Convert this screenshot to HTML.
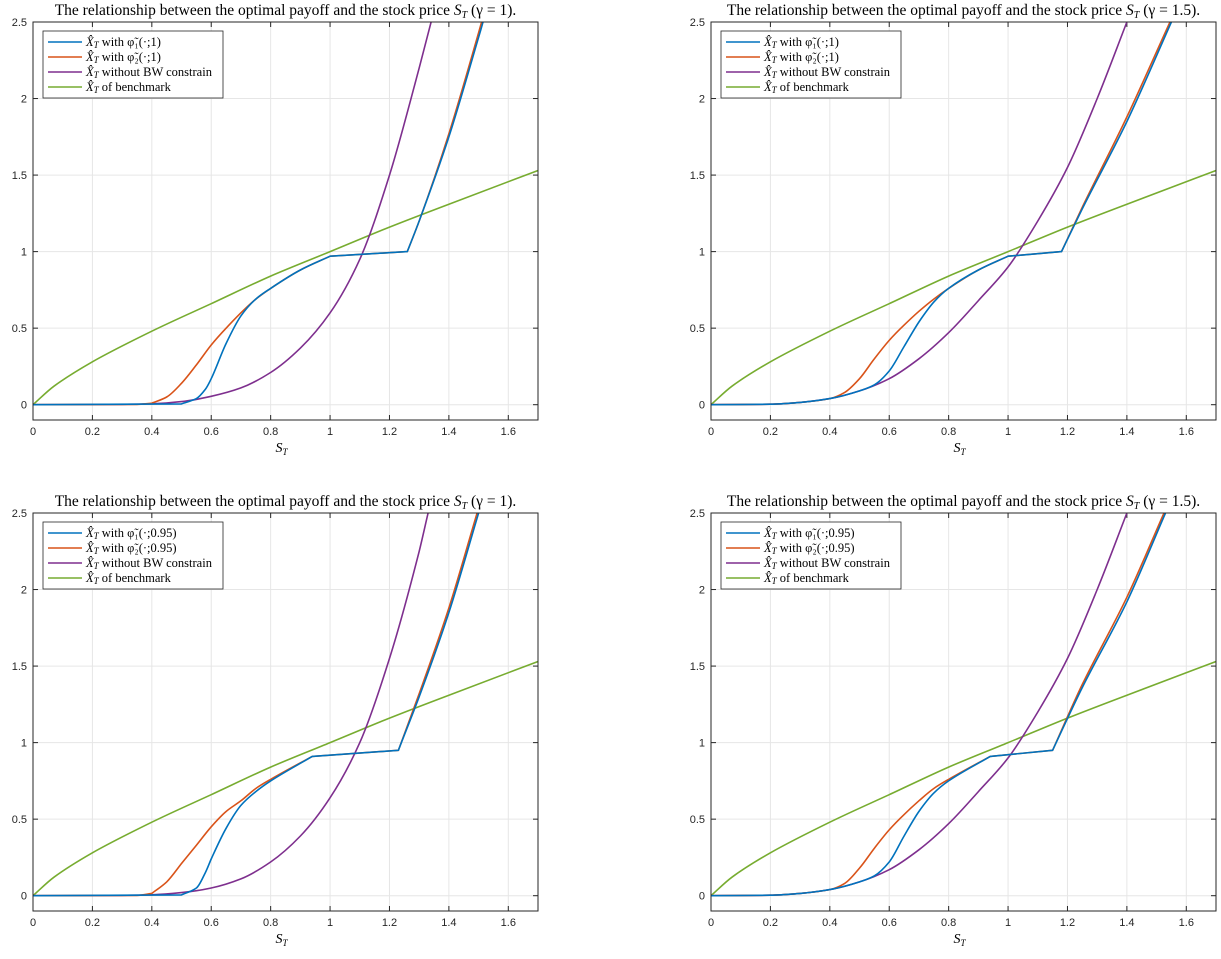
<!DOCTYPE html>
<html><head><meta charset="utf-8">
<style>
body{margin:0;background:#fff;}
</style></head>
<body>
<svg id="fig" width="1221" height="954" xmlns="http://www.w3.org/2000/svg" style="font-family:'Liberation Sans',sans-serif"></svg>
<script>
const xTicks=[0,0.2,0.4,0.6,0.8,1,1.2,1.4,1.6];
const yTicks=[0,0.5,1,1.5,2,2.5];
const greenX=[0,0.07,0.2,0.4,0.6,0.8,1.0,1.2,1.4,1.7];
const greenY=[0,0.12,0.28,0.48,0.66,0.84,1.0,1.16,1.31,1.53];
const p1PurpleX=[0,0.3,0.4,0.5,0.6,0.7,0.8,0.9,1.0,1.1,1.2,1.3,1.34];
const p1PurpleY=[0,0.002,0.006,0.02,0.055,0.11,0.21,0.37,0.6,0.95,1.5,2.2,2.5];
const p1BlueX=[0,0.5,0.55,0.58,0.6,0.65,0.7,0.75,0.8,0.9,1.0,1.26,1.3,1.4,1.5,1.515];
const p1BlueY=[0,0.005,0.04,0.1,0.17,0.4,0.58,0.69,0.76,0.88,0.97,1.0,1.2,1.75,2.4,2.5];
const p1OrangeX=[0,0.35,0.4,0.45,0.5,0.55,0.6,0.65,0.7,0.75,0.8,0.9,1.0,1.26,1.3,1.4,1.5,1.51];
const p1OrangeY=[0,0.002,0.01,0.05,0.14,0.26,0.39,0.5,0.6,0.69,0.76,0.88,0.97,1.0,1.2,1.77,2.43,2.5];
const p2PurpleX=[0,0.2,0.3,0.4,0.5,0.6,0.7,0.8,0.9,1.0,1.1,1.2,1.3,1.4];
const p2PurpleY=[0,0.003,0.015,0.04,0.09,0.17,0.3,0.47,0.68,0.9,1.2,1.55,2.0,2.5];
const p2BlueX=[0,0.2,0.3,0.4,0.5,0.55,0.6,0.65,0.7,0.75,0.8,0.9,1.0,1.18,1.25,1.4,1.55];
const p2BlueY=[0,0.003,0.015,0.04,0.09,0.13,0.22,0.38,0.54,0.67,0.76,0.88,0.97,1.0,1.28,1.85,2.5];
const p2OrangeX=[0,0.2,0.3,0.4,0.45,0.5,0.55,0.6,0.65,0.7,0.75,0.8,0.9,1.0,1.18,1.25,1.4,1.545];
const p2OrangeY=[0,0.003,0.015,0.04,0.08,0.17,0.3,0.42,0.52,0.61,0.69,0.76,0.88,0.97,1.0,1.29,1.88,2.5];
const p3PurpleX=[0,0.3,0.4,0.5,0.6,0.7,0.8,0.9,1.0,1.1,1.2,1.3,1.33];
const p3PurpleY=[0,0.002,0.006,0.02,0.05,0.11,0.22,0.39,0.64,1.0,1.55,2.25,2.5];
const p3BlueX=[0,0.5,0.55,0.58,0.6,0.65,0.7,0.75,0.8,0.94,1.23,1.3,1.4,1.5];
const p3BlueY=[0,0.005,0.05,0.15,0.24,0.44,0.59,0.68,0.75,0.91,0.95,1.3,1.85,2.5];
const p3OrangeX=[0,0.35,0.4,0.45,0.5,0.55,0.6,0.65,0.7,0.75,0.8,0.94,1.23,1.3,1.4,1.495];
const p3OrangeY=[0,0.002,0.015,0.09,0.21,0.33,0.45,0.55,0.62,0.7,0.76,0.91,0.95,1.32,1.88,2.5];
const p4PurpleX=p2PurpleX, p4PurpleY=p2PurpleY;
const p4BlueX=[0,0.2,0.3,0.4,0.5,0.55,0.6,0.65,0.7,0.75,0.8,0.94,1.15,1.25,1.4,1.53];
const p4BlueY=[0,0.003,0.015,0.04,0.09,0.13,0.22,0.39,0.55,0.67,0.75,0.91,0.95,1.36,1.92,2.5];
const p4OrangeX=[0,0.2,0.3,0.4,0.45,0.5,0.55,0.6,0.65,0.7,0.75,0.8,0.94,1.15,1.25,1.4,1.525];
const p4OrangeY=[0,0.003,0.015,0.04,0.08,0.18,0.31,0.43,0.53,0.62,0.7,0.76,0.91,0.95,1.38,1.95,2.5];

const panels=[
 {x0:33,x1:538,y0:22,y1:420,title:"(γ = 1).",leg:"1",P:[p1BlueX,p1BlueY,p1OrangeX,p1OrangeY,p1PurpleX,p1PurpleY]},
 {x0:711,x1:1216,y0:22,y1:420,title:"(γ = 1.5).",leg:"1",P:[p2BlueX,p2BlueY,p2OrangeX,p2OrangeY,p2PurpleX,p2PurpleY]},
 {x0:33,x1:538,y0:513,y1:911,title:"(γ = 1).",leg:"0.95",P:[p3BlueX,p3BlueY,p3OrangeX,p3OrangeY,p3PurpleX,p3PurpleY]},
 {x0:711,x1:1216,y0:513,y1:911,title:"(γ = 1.5).",leg:"0.95",P:[p4BlueX,p4BlueY,p4OrangeX,p4OrangeY,p4PurpleX,p4PurpleY]}
];
const NS="http://www.w3.org/2000/svg";
const fig=document.getElementById('fig');
function mk(tag,attrs,parent,txt){const e=document.createElementNS(NS,tag);for(const k in attrs)e.setAttribute(k,attrs[k]);if(txt!==undefined)e.textContent=txt;parent.appendChild(e);return e;}
function monoPath(X,Y){
 const n=X.length;const d=[],mL=[],mR=[];
 for(let i=0;i<n-1;i++)d.push((Y[i+1]-Y[i])/(X[i+1]-X[i]));
 mL[0]=mR[0]=d[0];mL[n-1]=mR[n-1]=d[n-2];
 for(let i=1;i<n-1;i++){
  const a=d[i-1],b=d[i];
  const ra=Math.abs(a),rb=Math.abs(b);
  const corner=(Math.max(ra,rb)>0.3&&Math.max(ra,rb)/Math.max(Math.min(ra,rb),1e-6)>4);
  if(corner){mL[i]=a;mR[i]=b;}
  else{const m=(a*b<=0)?0:2/(1/a+1/b);mL[i]=mR[i]=m;}
 }
 let s='M'+X[0].toFixed(1)+','+Y[0].toFixed(1);
 for(let i=0;i<n-1;i++){const h=(X[i+1]-X[i])/3;
  s+=' C'+(X[i]+h).toFixed(1)+','+(Y[i]+mR[i]*h).toFixed(1)+' '+(X[i+1]-h).toFixed(1)+','+(Y[i+1]-mL[i+1]*h).toFixed(1)+' '+X[i+1].toFixed(1)+','+Y[i+1].toFixed(1);}
 return s;
}
const colors=["#0072bd","#d95319","#7e2f8e","#77ac30"];
const serif="font-family:'Liberation Serif',serif";
panels.forEach((p,i)=>{
 const g=mk('g',{},fig);
 
 
 const sx=v=>p.x0+(v/1.7)*(p.x1-p.x0);
 const sy=v=>p.y1-((v+0.1)/2.6)*(p.y1-p.y0);
 mk('rect',{x:p.x0,y:p.y0,width:p.x1-p.x0,height:p.y1-p.y0,fill:'#fff'},g);
 xTicks.forEach(t=>{const X=sx(t);
  const gl=mk('line',{x1:X,x2:X,y1:p.y0,y2:p.y1,stroke:'#e6e6e6','stroke-width':1},g);
  
  mk('line',{x1:X,x2:X,y1:p.y1,y2:p.y1-5,stroke:'#262626'},g);
  mk('line',{x1:X,x2:X,y1:p.y0,y2:p.y0+5,stroke:'#262626'},g);
  const tl=mk('text',{x:X,y:p.y1+15,'font-size':11,'text-anchor':'middle',fill:'#262626'},g,String(t));
  
 });
 yTicks.forEach(t=>{const Y=sy(t);
  const gl=mk('line',{x1:p.x0,x2:p.x1,y1:Y,y2:Y,stroke:'#e6e6e6','stroke-width':1},g);
  
  mk('line',{x1:p.x0,x2:p.x0+5,y1:Y,y2:Y,stroke:'#262626'},g);
  mk('line',{x1:p.x1,x2:p.x1-5,y1:Y,y2:Y,stroke:'#262626'},g);
  const tl=mk('text',{x:p.x0-6,y:Y+4,'font-size':11,'text-anchor':'end',fill:'#262626'},g,String(t));
  
 });
 const series=[[p.P[0],p.P[1]],[p.P[2],p.P[3]],[p.P[4],p.P[5]],[greenX,greenY]];
 const names=['blue-series','orange-series','purple-series','green-benchmark-series'];
 const clipId='c'+i;
 const cp=mk('clipPath',{id:clipId},g);mk('rect',{x:p.x0,y:p.y0,width:p.x1-p.x0,height:p.y1-p.y0},cp);
 [3,2,1,0].forEach(k=>{
  const [xs,ys]=series[k];
  const pl=mk('path',{d:monoPath(xs.map(sx),ys.map(sy)),fill:'none',stroke:colors[k],'stroke-width':1.6,'clip-path':'url(#'+clipId+')','stroke-linejoin':'round'},g);
  
  
 });
 const box=mk('rect',{x:p.x0,y:p.y0,width:p.x1-p.x0,height:p.y1-p.y0,fill:'none',stroke:'#262626','stroke-width':1},g);
 
 const tt=mk('text',{x:(p.x0+p.x1)/2,y:p.y0-7,'font-size':15.5,'text-anchor':'middle',style:serif,fill:'#000'},g,'The relationship between the optimal payoff and the stock price ');
 
 mk('tspan',{'font-style':'italic'},tt,'S');
 mk('tspan',{'font-size':10,dy:3,'font-style':'italic'},tt,'T');
 mk('tspan',{dy:-3},tt,' '+p.title);
 const xl=mk('text',{x:(p.x0+p.x1)/2-4,y:p.y1+32,'font-size':14,'text-anchor':'middle',style:serif,'font-style':'italic'},g,'S');
 mk('tspan',{'font-size':9,dy:3},xl,'T');
 
 const lg=mk('g',{},g);
 
 const lx=p.x0+10,ly=p.y0+9;
 mk('rect',{x:lx,y:ly,width:180,height:67,fill:'#fff',stroke:'#262626','stroke-width':0.8},lg);
 const labels=['with φ̃₁(·;'+p.leg+')','with φ̃₂(·;'+p.leg+')','without BW constrain','of benchmark'];
 labels.forEach((L,k)=>{
  const Y=ly+11+k*15;
  mk('line',{x1:lx+5,x2:lx+39,y1:Y,y2:Y,stroke:colors[k],'stroke-width':1.6},lg);
  const t=mk('text',{x:lx+43,y:Y+4,'font-size':12.5,style:serif},lg);
  mk('tspan',{'font-style':'italic'},t,'X̂');
  mk('tspan',{'font-size':9,dy:2,'font-style':'italic'},t,'T');
  mk('tspan',{dy:-2},t,' '+L);
  
 });
});
</script>
</body></html>
